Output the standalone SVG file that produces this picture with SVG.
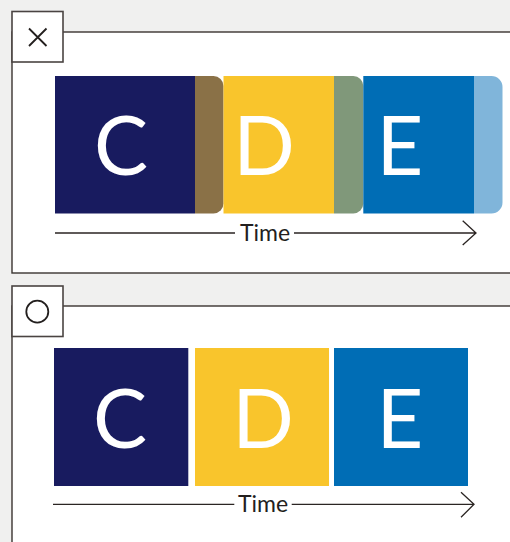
<svg xmlns="http://www.w3.org/2000/svg" width="510" height="542" viewBox="0 0 510 542">
<style>
.frame{fill:#fff;stroke:#3a3431;stroke-width:1.4}
.icon{fill:#fff;stroke:#4a4442;stroke-width:1.6}
.mark{fill:none;stroke:#231f1e;stroke-width:1.8}
.letter{font-family:Lato,"Open Sans","Liberation Sans",sans-serif;font-size:81px;fill:#fff;text-anchor:middle}
.axis{fill:none;stroke:#2b2523;stroke-width:1.3}
.time{font-family:Lato,"Open Sans","Liberation Sans",sans-serif;font-size:23px;fill:#231f1e;text-anchor:middle}
</style>
<rect width="510" height="542" fill="#f0f0ef"/>
<g id="panel-top">
<rect class="frame" x="12" y="32" width="510" height="241"/>
<rect class="icon" x="12" y="11.5" width="51" height="50.5"/>
<path class="mark" d="M29 28.5L46.5 46M46.5 28.5L29 46"/>
</g>
<g id="panel-bottom">
<rect class="frame" x="12" y="306" width="510" height="250"/>
<rect class="icon" x="12" y="286" width="51" height="50.5"/>
<circle class="mark" cx="37.3" cy="311.7" r="11"/>
</g>
<g id="node-C-top">
<rect x="55" y="76" width="140" height="137.5" fill="#181b5f"/>
<text class="letter" x="121" y="175">C</text>
</g>
<g id="overlap-CD-top">
<path d="M195 76H213.5A10 10 0 0 1 223.5 86V203.5A10 10 0 0 1 213.5 213.5H195Z" fill="#8a7147"/>
</g>
<g id="node-D-top">
<rect x="223.5" y="76" width="110.5" height="137.5" fill="#f9c52c"/>
<text class="letter" x="264" y="175">D</text>
</g>
<g id="overlap-DE-top">
<path d="M334 76H353.3A10 10 0 0 1 363.3 86V203.5A10 10 0 0 1 353.3 213.5H334Z" fill="#80987a"/>
</g>
<g id="node-E-top">
<rect x="363.3" y="76" width="110.7" height="137.5" fill="#006db5"/>
<text class="letter" x="400" y="175">E</text>
</g>
<g id="overlap-E-end-top">
<path d="M474 76H491.5A11 11 0 0 1 502.5 87V202.5A11 11 0 0 1 491.5 213.5H474Z" fill="#80b5da"/>
</g>
<g id="node-C-bottom">
<rect x="54" y="348" width="134.3" height="138" fill="#181b5f"/>
<text class="letter" x="120" y="447.5">C</text>
</g>
<g id="node-D-bottom">
<rect x="195" y="348" width="134" height="138" fill="#f9c52c"/>
<text class="letter" x="263" y="447.5">D</text>
</g>
<g id="node-E-bottom">
<rect x="334" y="348" width="134" height="138" fill="#006db5"/>
<text class="letter" x="400" y="447.5">E</text>
</g>
<g id="connectors">
<path class="axis" d="M55 233H235M294 233H476M462.7 220.7L476 233L462.7 245"/>
<text class="time" x="265" y="240.5">Time</text>
<path class="axis" d="M53 504.3H234.3M291.7 504.3H474M461 492.3L474 504.3L461 517.3"/>
<text class="time" x="263" y="512">Time</text>
</g>
</svg>
